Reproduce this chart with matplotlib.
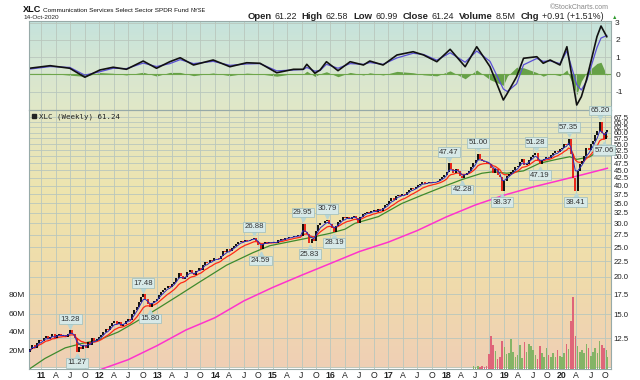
import numpy as np
import pandas as pd
import matplotlib
matplotlib.use("Agg")
import matplotlib.pyplot as plt
from matplotlib.colors import LinearSegmentedColormap
from matplotlib.transforms import offset_copy

W, H = 640, 380

CLOSE_2010 = [11.2, 11.5, 11.9, 11.6, 12.0, 12.3, 12.2]
CLOSE_2011 = [12.5, 12.7, 12.4, 12.6, 12.9, 12.5, 12.8, 12.9, 12.7, 12.8, 12.6, 12.9, 13.28,
              12.9, 12.5, 11.27, 11.7, 11.5, 11.9, 11.6, 12.1, 11.9, 12.5, 12.2, 12.4, 12.6]
CLOSE_2012 = [12.8, 13.1, 13.4, 13.3, 13.7, 14.0, 14.2, 13.9, 14.1, 13.7, 13.9, 14.2, 14.5,
              14.3, 15.0, 15.5, 15.9, 16.5, 17.1, 17.48, 16.8, 16.2, 15.8, 16.3, 16.6, 16.9]
CLOSE_2013 = [17.4, 17.8, 18.0, 18.3, 18.6, 18.5, 18.9, 19.2, 19.8, 20.5, 20.1, 19.6, 20.0,
              20.7, 21.0, 20.6, 20.3, 20.9, 21.4, 21.1, 21.9, 22.4, 22.1, 22.7, 22.5, 23.1]
CLOSE_2014 = [23.0, 22.8, 23.4, 24.3, 24.1, 24.6, 24.3, 24.9, 25.3, 25.7, 26.0, 26.3, 26.1,
              26.5, 26.2, 26.5, 26.7, 26.88, 26.3, 25.4, 24.59, 25.7, 26.0, 25.8, 26.1, 25.9]
CLOSE_2015 = [26.1, 25.8, 26.4, 26.7, 26.5, 26.9, 26.8, 27.1, 27.0, 27.3, 27.2, 27.4, 27.3,
              29.95, 28.2, 27.6, 25.83, 26.6, 26.3, 28.4, 29.6, 30.2, 30.0, 30.5, 30.79, 29.9]
CLOSE_2016 = [28.9, 28.19, 29.4, 30.3, 30.9, 31.4, 31.2, 31.6, 31.0, 31.5, 31.7, 31.3, 30.0,
              31.6, 32.3, 32.6, 32.8, 32.5, 32.9, 33.2, 32.8, 33.5, 33.1, 33.8, 34.4, 34.7]
CLOSE_2017 = [35.5, 36.3, 36.0, 36.9, 37.4, 37.1, 37.6, 37.2, 38.1, 38.6, 39.3, 39.0, 39.6,
              40.1, 40.6, 41.3, 40.6, 40.9, 41.2, 40.8, 41.3, 41.0, 41.6, 42.0, 42.6, 43.3]
CLOSE_2018 = [44.5, 47.47, 45.6, 44.2, 45.3, 44.6, 43.1, 42.28, 43.5, 44.0, 44.8, 46.2, 47.5,
              48.6, 51.0, 49.0, 48.2, 48.0, 47.6, 47.3, 45.8, 44.2, 45.3, 43.3, 42.6, 38.37]
CLOSE_2019 = [41.6, 43.2, 43.6, 44.5, 45.2, 46.1, 46.4, 48.0, 49.2, 46.8, 47.3, 48.6, 49.9,
              50.5, 51.28, 48.6, 47.19, 48.5, 49.2, 49.9, 49.3, 50.4, 51.2, 52.0, 51.6, 53.1]
CLOSE_2020 = [53.4, 55.2, 54.6, 57.35, 50.8, 42.5, 38.41, 44.6, 47.1, 48.4, 50.2, 53.2, 52.6,
              54.8, 56.3, 58.8, 60.6, 65.2, 59.8, 57.06, 60.4, 61.24]
FIRST_DATE = "2010-10-08"
LAST_DATE = "2020-10-14"

# volume in millions, XLC only trades from June 2018
VOLUME_2018 = [3, 2, 3, 2, 3, 2, 3, 16, 35, 26, 19, 10, 13, 30]
VOLUME_2019 = [23, 16, 17, 32, 18, 13, 15, 26, 11, 29, 18, 27, 24, 20, 15, 10, 24, 17, 13, 22,
               15, 13, 17, 12, 20, 14]
VOLUME_2020 = [13, 17, 27, 21, 52, 78, 35, 25, 18, 20, 17, 27, 22, 14, 18, 22, 17, 30, 26, 22,
               20, 12]

# slow moving averages (green, magenta), read as decimal years
GREEN_T = [2010.80, 2011.06, 2011.41, 2011.70, 2011.98, 2012.33, 2012.62, 2013.02, 2013.37,
           2013.74, 2014.20, 2014.66, 2014.95, 2015.30, 2015.64, 2015.99, 2016.25, 2016.42,
           2016.83, 2017.23, 2017.58, 2017.98, 2018.27, 2018.62, 2018.82, 2019.05, 2019.34,
           2019.62, 2019.91, 2020.14, 2020.26, 2020.49, 2020.66, 2020.78]
GREEN_V = [9.9, 10.7, 11.6, 12.0, 12.3, 13.1, 14.1, 15.7, 17.3, 19.2, 21.8, 24.0, 25.3, 26.1,
           26.9, 27.8, 28.7, 30.0, 31.6, 34.9, 37.2, 39.9, 41.9, 44.0, 44.5, 44.0, 44.8, 47.5,
           48.9, 49.9, 48.9, 49.9, 52.6, 53.2]
MAGENTA_T = [2012.0, 2012.5, 2013.0, 2013.5, 2014.0, 2014.5, 2015.0, 2015.5, 2016.0, 2016.5,
             2017.0, 2017.5, 2018.0, 2018.5, 2019.0, 2019.5, 2020.0, 2020.5, 2020.79]
MAGENTA_V = [9.8, 10.6, 11.8, 13.3, 14.6, 16.6, 18.4, 20.2, 22.1, 24.2, 26.0, 28.4, 31.5, 34.5,
             37.2, 39.6, 41.8, 44.2, 45.7]

# top indicator panel
OSC_T = [2010.79, 2011.15, 2011.49, 2011.75, 2012.01, 2012.24, 2012.47, 2012.76, 2012.99,
         2013.22, 2013.40, 2013.63, 2013.97, 2014.26, 2014.55, 2014.78, 2015.07, 2015.36,
         2015.53, 2015.59, 2015.73, 2015.82, 2015.93, 2016.13, 2016.34, 2016.57, 2016.68,
         2016.91, 2017.15, 2017.43, 2017.61, 2017.84, 2018.07, 2018.33, 2018.53, 2018.76,
         2018.99, 2019.06, 2019.22, 2019.34, 2019.57, 2019.68, 2019.80, 2019.97, 2020.09,
         2020.26, 2020.34, 2020.43, 2020.61, 2020.68, 2020.78]
OSC_LINE = [0.35, 0.50, 0.35, -0.17, 0.25, 0.41, 0.29, 0.77, 0.35, 0.73, 0.96, 0.54, 0.83,
            0.44, 0.67, 0.64, 0.09, 0.29, 0.29, 0.58, 0.06, 0.25, 0.73, 0.21, 0.73, 0.54,
            0.77, 0.54, 1.12, 1.31, 1.12, 0.73, 1.45, 0.44, 1.60, 0.44, -1.49, -1.10, -0.14,
            0.93, 1.02, 0.64, 0.83, 0.54, 1.60, -1.78, -1.30, -0.30, 2.18, 2.80, 2.18]
OSC_SIGNAL = [0.30, 0.45, 0.40, -0.05, 0.15, 0.35, 0.33, 0.65, 0.45, 0.62, 0.85, 0.62, 0.75,
              0.52, 0.60, 0.62, 0.20, 0.25, 0.28, 0.40, 0.18, 0.22, 0.58, 0.35, 0.62, 0.58,
              0.68, 0.58, 0.95, 1.22, 1.15, 0.82, 1.25, 0.70, 1.35, 0.75, -0.85, -1.00, -0.55,
              0.55, 0.92, 0.75, 0.78, 0.62, 1.35, -0.60, -0.91, -0.40, 1.55, 2.10, 2.25]

# labelled highs and lows
PEAK_T = [2011.50, 2012.76, 2014.68, 2015.52, 2015.94, 2018.05, 2018.55, 2019.55, 2020.12, 2020.66]
PEAK_V = [13.28, 17.48, 26.88, 29.95, 30.79, 47.47, 51.00, 51.28, 57.35, 65.20]
LOW_T = [2011.61, 2012.88, 2014.79, 2015.64, 2016.06, 2018.28, 2018.97, 2019.62, 2020.24, 2020.73]
LOW_V = [11.27, 15.80, 24.59, 25.83, 28.19, 42.28, 38.37, 47.19, 38.41, 57.06]

PRICE_TICKS = [12.5, 15.0, 17.5, 20.0, 22.5, 25.0, 27.5, 30.0, 32.5, 35.0, 37.5, 40.0, 42.5,
               45.0, 47.5, 50.0, 52.5, 55.0, 57.5, 60.0, 62.5, 65.0, 67.5]
VOL_TICKS = [20, 40, 60, 80]
OSC_TICKS = [-1, 0, 1, 2, 3]
QUOTE = [("Open", "61.22"), ("High", "62.58"), ("Low", "60.99"), ("Close", "61.24"),
         ("Volume", "8.5M"), ("Chg", "+0.91 (+1.51%)")]

X_MIN, X_MAX = 2010.784, 2020.853
GRID = "#b9c7bd"
EDGE = "#97aaa8"
FONT = "Liberation Sans"


def to_year(dates):
    return np.asarray(dates.year + (dates.dayofyear - 1) / 365.25, dtype=float)


def box(left, top, right, bottom):
    return [left / W, 1 - bottom / H, (right - left) / W, (bottom - top) / H]


def gradient(fig, rect, colors):
    bg = fig.add_axes(rect, zorder=0)
    cmap = LinearSegmentedColormap.from_list("bg", colors)
    bg.imshow(np.linspace(0, 1, 256).reshape(-1, 1), cmap=cmap, aspect="auto",
              extent=[0, 1, 0, 1])
    bg.set_axis_off()


def time_axis(ax, labels):
    ax.set_xlim(X_MIN, X_MAX)
    quarters = [y + q / 4 for y in range(2010, 2021) for q in range(4)]
    quarters = [q for q in quarters if X_MIN < q < X_MAX]
    ax.set_xticks(quarters)
    ax.grid(axis="x", color=GRID, lw=0.6)
    if labels:
        names = []
        for q in quarters:
            m = round((q % 1) * 4)
            names.append(f"{int(q) % 100:02d}" if m == 0 else "AJO"[m - 1])
        ax.set_xticklabels(names)
        for lab, q in zip(ax.get_xticklabels(), quarters):
            if round((q % 1) * 4) == 0:
                lab.set_fontweight("bold")
    else:
        ax.set_xticklabels([])
    ax.tick_params(axis="x", length=0, pad=1.5, labelsize=6.3, colors="#222")


def style(ax):
    ax.patch.set_alpha(0)
    for s in ax.spines.values():
        s.set_color(EDGE)
        s.set_linewidth(0.8)


def text_chain(fig, x, y_base, parts, align="left"):
    # parts: (text, size, weight, color, gap after)
    r = fig.canvas.get_renderer()
    items = []
    for s, size, weight, color, gap in parts:
        t = fig.text(0, 1 - y_base / H, s, fontsize=size, fontweight=weight, color=color,
                     va="baseline")
        items.append([t, t.get_window_extent(r).width, gap])
    if align == "right":
        x = x - (sum(w + g for _, w, g in items) - items[-1][2])
    for t, w, g in items:
        t.set_x(x / W)
        x += w + g


def main():
    plt.rcParams["font.family"] = [FONT, "DejaVu Sans"]
    fig = plt.figure(figsize=(W / 100, H / 100), dpi=100)

    close_list = (CLOSE_2010 + CLOSE_2011 + CLOSE_2012 + CLOSE_2013 + CLOSE_2014 + CLOSE_2015
                  + CLOSE_2016 + CLOSE_2017 + CLOSE_2018 + CLOSE_2019 + CLOSE_2020)
    dates = pd.date_range(FIRST_DATE, periods=len(close_list) - 1, freq="14D")
    dates = dates.append(pd.DatetimeIndex([LAST_DATE]))
    t = to_year(dates)
    close = pd.Series(close_list, index=t)
    blue = close.ewm(span=4).mean()
    red = close.ewm(span=10).mean()

    ind_rect = box(29, 20.5, 611, 110)
    price_rect = box(29, 110, 611, 368.5)
    gradient(fig, ind_rect, ["#c4e3dd", "#d6e6d2", "#e1e8c7"])
    gradient(fig, price_rect, ["#e3e7c5", "#eee4ad", "#f0dbab", "#efcfb5"])

    # indicator panel
    ax1 = fig.add_axes(ind_rect, zorder=1)
    style(ax1)
    time_axis(ax1, labels=False)
    line = np.array(OSC_LINE)
    sig = np.array(OSC_SIGNAL)
    ax1.fill_between(OSC_T, 0, line - sig, color="#5a9a38", alpha=0.9, lw=0)
    ax1.axhline(0, color="#6ea64c", lw=0.8)
    ax1.plot(OSC_T, sig, color="#5a4fd6", lw=0.9)
    ax1.plot(OSC_T, line, color="#111111", lw=1.2)
    ax1.set_ylim(-2.07, 3.12)
    ax1.set_yticks(OSC_TICKS)
    ax1.set_yticklabels([str(v) for v in OSC_TICKS])
    ax1.yaxis.tick_right()
    ax1.tick_params(axis="y", length=0, pad=3, labelsize=6, colors="#222")
    ax1.grid(axis="y", color=GRID, lw=0.6)

    # price panel
    ax2 = fig.add_axes(price_rect, zorder=1)
    style(ax2)
    ax2.set_yscale("log")
    ax2.set_ylim(9.91, 71.3)
    ax2.yaxis.set_minor_locator(matplotlib.ticker.NullLocator())
    ax2.set_yticks(PRICE_TICKS)
    ax2.set_yticklabels([f"{v:.1f}" for v in PRICE_TICKS])
    for v in [10.0] + PRICE_TICKS:
        ax2.axhline(v, color=GRID, lw=0.6, zorder=0.5)
    time_axis(ax2, labels=True)

    ax2.plot(MAGENTA_T, MAGENTA_V, color="#ff33cc", lw=1.1, zorder=2)
    ax2.plot(GREEN_T, GREEN_V, color="#3f8a2c", lw=0.9, zorder=2)
    ax2.plot(t, red.values, color="#ff2a16", lw=0.9, zorder=2)
    up = np.diff(close.values) >= 0
    ax2.vlines(t[1:], close.values[:-1], close.values[1:],
               colors=np.where(up, "#000000", "#e8160c"), lw=1.3, zorder=3)
    ax2.plot(t, blue.values, color="#2b2bbf", lw=0.7, zorder=4)

    above = offset_copy(ax2.transData, fig=fig, y=3.2, units="points")
    below = offset_copy(ax2.transData, fig=fig, y=-3.2, units="points")
    lab = dict(fontsize=5.6, color="#333", ha="center", zorder=6,
               bbox=dict(boxstyle="square,pad=0.18", fc="#d7e9e8", ec="#9dbdbc", lw=0.5))
    for x, v in zip(PEAK_T, PEAK_V):
        ax2.plot([x], [v], marker="v", ms=3.5, color="#b8d6d5", transform=above, zorder=5)
        ax2.annotate(f"{v:.2f}", (x, v), xytext=(0, 5.5), textcoords="offset points",
                     va="bottom", **lab)
    for x, v in zip(LOW_T, LOW_V):
        ax2.plot([x], [v], marker="^", ms=3.5, color="#b8d6d5", transform=below, zorder=5)
        ax2.annotate(f"{v:.2f}", (x, v), xytext=(0, -5.5), textcoords="offset points",
                     va="top", **lab)
    ax2.plot([0.008], [0.975], marker="s", ms=3, color="#222", transform=ax2.transAxes)
    ax2.text(0.018, 0.985, "XLC (Weekly) 61.24", transform=ax2.transAxes, va="top",
             ha="left", family="DejaVu Sans Mono", fontsize=5.4, color="#222")

    # volume on its own scale, left side
    ax3 = ax2.twinx()
    ax3.set_zorder(2)
    ax3.patch.set_alpha(0)
    vol = VOLUME_2018 + VOLUME_2019 + VOLUME_2020
    vt = t[-len(vol):]
    vup = np.diff(close.values)[-len(vol):] >= 0
    ax3.bar(vt, vol, width=10 / 365.25, color=np.where(vup, "#84b466", "#df6579"), lw=0)
    ax3.set_ylim(0, 281)
    ax3.set_yticks(VOL_TICKS)
    ax3.set_yticklabels([f"{v}M" for v in VOL_TICKS])
    ax3.yaxis.tick_left()
    ax3.tick_params(axis="y", length=0, pad=3, labelsize=6, colors="#222")
    for s in ax3.spines.values():
        s.set_visible(False)
    ax3.set_xlim(X_MIN, X_MAX)

    # twinx moved the price labels to the left, put them back
    ax2.yaxis.tick_right()
    ax2.tick_params(axis="y", length=0, pad=2, labelsize=5.6, colors="#222")

    # header
    text_chain(fig, 23, 12, [("XLC", 6.6, "bold", "#111", 1.5),
                             ("Communication Services Select Sector SPDR Fund", 4.6,
                              "normal", "#111", 2),
                             ("NYSE", 4.0, "normal", "#111", 0)])
    fig.text(23 / W, 1 - 19 / H, "14-Oct-2020", fontsize=4.6, color="#222", va="baseline")
    fig.text(609 / W, 1 - 9 / H, "\u00a9StockCharts.com", fontsize=5.0, color="#888",
             ha="right", va="baseline")
    quote = []
    for label, val in QUOTE:
        quote.append((label, 6.8, "bold", "#222", 3))
        quote.append((val, 6.4, "normal", "#222", 5))
    text_chain(fig, 604, 19, quote, align="right")
    fig.text(612 / W, 1 - 19 / H, "\u25b2", fontsize=4, color="#2e9a2e", va="baseline")

    fig.savefig("out.png", dpi=100)


if __name__ == "__main__":
    main()
